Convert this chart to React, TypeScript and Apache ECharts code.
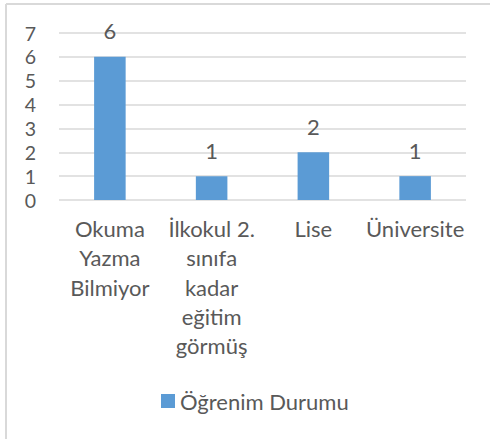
import React, { useEffect, useRef } from "react";
import * as echarts from "echarts";

const categories = [
  "Okuma\nYazma\nBilmiyor",
  "İlkokul 2.\nsınıfa\nkadar\neğitim\ngörmüş",
  "Lise",
  "Üniversite",
];
const seriesName = "Öğrenim Durumu";
const values = [6, 1, 2, 1];
const yMin = 0;
const yMax = 7;
const yInterval = 1;

const FONT = "Lato";
const TEXT = "#595959";
const FS = 22;

export default function App() {
  const ref = useRef<HTMLDivElement>(null);
  useEffect(() => {
    if (!ref.current) return;
    const chart = echarts.init(ref.current, null, { renderer: "svg" });
    chart.setOption({
      animation: false,
      backgroundColor: "#ffffff",
      textStyle: { fontFamily: FONT },
      grid: { left: 59, right: 24, top: 33, bottom: 239, containLabel: false },
      xAxis: {
        type: "category",
        data: categories,
        axisLine: { show: false },
        axisTick: { show: false },
        axisLabel: {
          color: TEXT,
          fontSize: FS,
          fontFamily: FONT,
          lineHeight: 29.3,
          margin: 14,
          interval: 0,
          align: "center",
          verticalAlign: "top",
        },
      },
      yAxis: {
        type: "value",
        min: yMin,
        max: yMax,
        interval: yInterval,
        axisLine: { show: false },
        axisTick: { show: false },
        axisLabel: {
          color: TEXT,
          fontSize: 19.5,
          fontFamily: FONT,
          lineHeight: 20,
          margin: 23,
        },
        splitLine: { lineStyle: { color: "#d9d9d9", width: 1.5 } },
      },
      legend: {
        data: [seriesName],
        left: 161,
        top: 390,
        padding: 0,
        itemWidth: 14,
        itemHeight: 14,
        itemGap: 5,
        icon: "rect",
        textStyle: { color: TEXT, fontSize: FS, fontFamily: FONT, padding: [0, 0, 0, 0] },
      },
      series: [
        {
          name: seriesName,
          type: "bar",
          data: values,
          barWidth: "31%",
          itemStyle: { color: "#5B9BD5" },
          label: {
            show: true,
            position: "top",
            distance: 15,
            color: TEXT,
            fontSize: FS,
            fontFamily: FONT,
          },
        },
      ],
      graphic: [
        {
          type: "line",
          shape: { x1: 6, y1: 4, x2: 490, y2: 4 },
          style: { stroke: "#d9d9d9", lineWidth: 2 },
          silent: true,
        },
        {
          type: "line",
          shape: { x1: 6, y1: 4, x2: 6, y2: 439 },
          style: { stroke: "#d9d9d9", lineWidth: 2 },
          silent: true,
        },
      ],
    });
    return () => chart.dispose();
  }, []);
  return (
    <div
      ref={ref}
      style={{ position: "fixed", left: 0, top: 0, width: 490, height: 439 }}
    />
  );
}
